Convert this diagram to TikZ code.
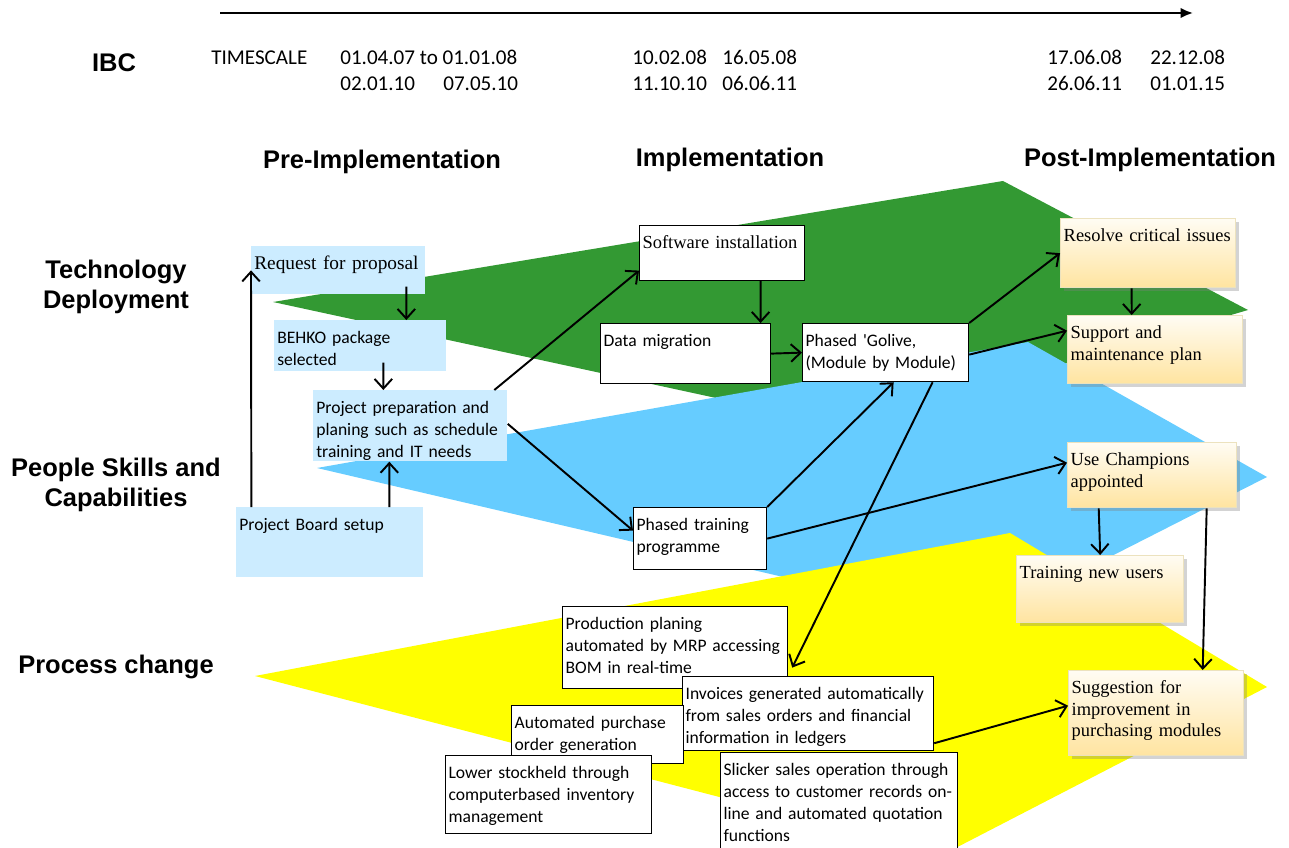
\documentclass[tikz,border=0pt]{standalone}
\usepackage{fontspec}
\setmainfont{Liberation Serif}
\newfontfamily\calfont{Carlito}
\newfontfamily\arifont{Liberation Sans}
\usetikzlibrary{arrows.meta,shadows}
\definecolor{techgreen}{RGB}{51,153,51}
\definecolor{peopleblue}{RGB}{102,204,255}
\definecolor{procyellow}{RGB}{255,255,0}
\definecolor{prefill}{RGB}{204,236,255}
\definecolor{posttop}{RGB}{255,252,243}
\definecolor{postbot}{RGB}{255,228,160}
\definecolor{postline}{RGB}{236,226,190}
\begin{document}
\begin{tikzpicture}[x=0.02cm,y=-0.02cm,
    box/.style 2 args={anchor=north west,align=left,inner xsep=0.06cm,inner ysep=0.1cm,
      text width=#1*0.02cm-0.12cm,text height=0.36cm,text depth=#2*0.02cm-0.56cm},
    pre/.style 2 args={box={#1}{#2},fill=prefill,font=\calfont\fontsize{10}{12.5}\selectfont},
    impl/.style 2 args={box={#1}{#2},draw,line width=0.7pt,fill=white,font=\calfont\fontsize{10}{12.5}\selectfont},
    post/.style 2 args={box={#1}{#2},draw=postline,line width=0.8pt,top color=posttop,bottom color=postbot,
      drop shadow={shadow xshift=0.07cm,shadow yshift=-0.07cm,opacity=0.35},
      font=\fontsize{10.5}{12.3}\selectfont},
    head/.style={font=\arifont\bfseries\fontsize{14.5}{17}\selectfont,align=center},
    date/.style={anchor=base west,inner sep=0pt,font=\calfont\fontsize{12}{14}\selectfont},
    link/.style={-{Straight Barb[length=5.5pt,width=10pt]},line width=1.1pt}]
  \useasboundingbox (0,0) rectangle (1289,848);
  \fill[techgreen] (273,302) -- (1003,181) -- (1248,310) -- (850,427) -- cycle;
  \fill[peopleblue] (317,468) -- (1028,342) -- (1267,477) -- (980,623) -- cycle;
  \fill[procyellow] (255,676) -- (1010,533) -- (1267,687) -- (942,855) -- cycle;
  \coordinate (tl0) at (220,13);
  \coordinate (tl1) at (1193,13);
  \draw[line width=1.2pt,-{Latex[length=7pt,width=6pt]}] (tl0) -- (tl1);
  \draw
    (114,63) node[head] (ibc){IBC}
    (211,65) node[date] (ts){TIMESCALE}
    (340,65) node[date] (d1){01.04.07 to 01.01.08}
    (340,91) node[date] (d2){02.01.10}
    (443,91) node[date] (d3){07.05.10}
    (632,65) node[date] (d4){10.02.08}
    (722,65) node[date] (d5){16.05.08}
    (632,91) node[date] (d6){11.10.10}
    (722,91) node[date] (d7){06.06.11}
    (1047,65) node[date] (d8){17.06.08}
    (1150,65) node[date] (d9){22.12.08}
    (1047,91) node[date] (d10){26.06.11}
    (1150,91) node[date] (d11){01.01.15};
  \draw
    (382,162) node[head] (prehead){Pre-Implementation}
    (730,160) node[head] (implhead){Implementation}
    (1150,160) node[head] (posthead){Post-Implementation}
    (116,287) node[head] (techlabel){Technology\\Deployment}
    (116,485) node[head] (peoplelabel){People Skills and\\Capabilities}
    (116,667) node[head] (proclabel){Process change};
  \draw
    (251,246) node[pre={174}{48},font=\fontsize{11}{13}\selectfont] (req){Request for proposal}
    (274,320) node[pre={172}{51}] (beh){BEHKO package\\selected}
    (313,390) node[pre={194}{71}] (prep){Project preparation and\\planing such as schedule\\training and IT needs}
    (236,507) node[pre={187}{70}] (board){Project Board setup};
  \draw
    (639,225) node[impl={165}{55},font=\fontsize{10.5}{12.5}\selectfont] (soft){Software installation}
    (600,323) node[impl={170}{60}] (data){Data migration}
    (802,323) node[impl={166}{58}] (golive){Phased \textquotesingle Golive,\\(Module by Module)}
    (633,507) node[impl={133}{62}] (ptrain){Phased training\\programme};
  \draw
    (1060,218) node[post={175}{69}] (resolve){Resolve critical issues}
    (1067,315) node[post={175}{68}] (support){Support and\\maintenance plan}
    (1067,442) node[post={169}{65}] (champ){Use Champions\\appointed}
    (1016,555) node[post={167}{67}] (newusr){Training new users}
    (1068,670) node[post={175}{85}] (suggest){Suggestion for\\improvement in\\purchasing modules};
  \draw
    (562,606) node[impl={225}{82}] (prod){Production planing\\automated by MRP accessing\\BOM in real-time}
    (682,676) node[impl={251}{74}] (invoice){Invoices generated automatically\\from sales orders and financial\\information in ledgers}
    (511,705) node[impl={172}{58}] (autopo){Automated purchase\\order generation}
    (445,755) node[impl={206}{78}] (lower){Lower stockheld through\\computerbased inventory\\management}
    (720,752) node[impl={237}{104}] (slicker){Slicker sales operation through\\access to customer records on-\\line and automated quotation\\functions};
  \begin{scope}[link]
    \draw ([xshift=1.36cm,yshift=0.16cm]req.south) -- ([xshift=0.92cm]beh.north);
    \draw ([xshift=0.46cm,yshift=0.18cm]beh.south) -- ([xshift=-0.54cm]prep.north);
    \draw ([xshift=-1.57cm]board.north) -- (req.west);
    \draw ([xshift=1.19cm]board.north) -- ([xshift=-0.42cm]prep.south);
    \draw ([xshift=1.68cm]prep.north) -- ([yshift=-0.35cm]soft.west);
    \draw ([yshift=0.04cm]prep.east) -- ([yshift=0.16cm]ptrain.west);
    \draw ([xshift=0.77cm]soft.south) -- ([xshift=1.5cm]data.north);
    \draw (data.east) -- (golive.west);
    \draw (golive.north east) -- (resolve.west);
    \draw ([yshift=-0.04cm]golive.east) -- ([yshift=0.38cm]support.west);
    \draw (ptrain.north east) -- ([xshift=0.16cm]golive.south);
    \draw ([xshift=0.94cm]golive.south) -- ([xshift=0.08cm,yshift=-0.4cm]prod.east);
    \draw (ptrain.east) -- ([yshift=0.25cm]champ.west);
    \draw ([xshift=-1.07cm]champ.south) -- (newusr.north);
    \draw ([xshift=1.09cm]champ.south) -- ([xshift=0.93cm]suggest.north);
    \draw ([yshift=0.16cm]invoice.south east) -- ([yshift=0.15cm]suggest.west);
    \draw ([xshift=-0.33cm]resolve.south) -- ([xshift=-0.47cm]support.north);
  \end{scope}
\end{tikzpicture}
\end{document}
